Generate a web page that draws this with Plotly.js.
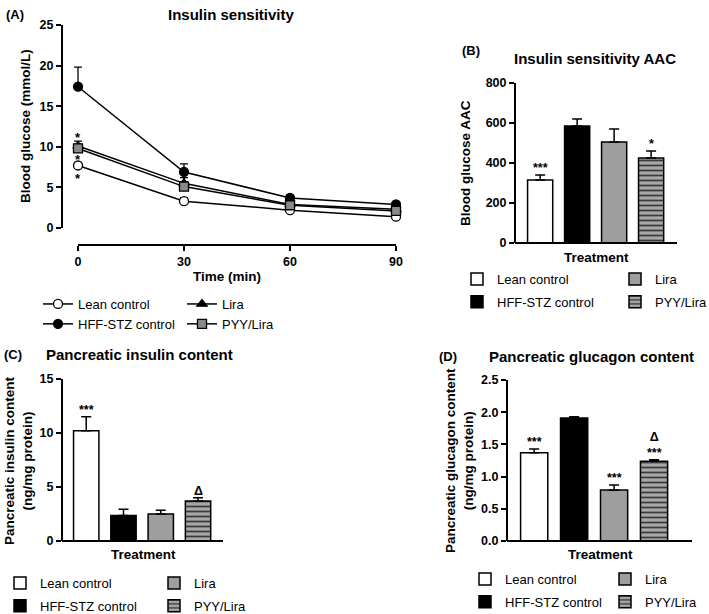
<!DOCTYPE html>
<html><head><meta charset="utf-8">
<script src="https://cdn.plot.ly/plotly-3.0.1.min.js"></script>
<style>html,body{margin:0;padding:0;background:#fff}#chart{width:709px;height:614px}</style>
</head><body><div id="chart"></div>
<script>
// ---------- data ----------
const groups = ['Lean control', 'HFF-STZ control', 'Lira', 'PYY/Lira'];
const timeMin = [0, 30, 60, 90];
const glucoseLean = [7.7, 3.3, 2.2, 1.4];
const glucoseLeanErr = [0.3, 0.4, 0.2, 0.2];
const glucoseHFF = [17.4, 6.9, 3.7, 2.9];
const glucoseHFFErr = [2.4, 1.0, 0.3, 0.3];
const glucoseLira = [10.1, 5.5, 2.9, 2.3];
const glucoseLiraErr = [0.6, 0.7, 0.3, 0.3];
const glucosePYY = [9.8, 5.1, 2.8, 2.1];
const glucosePYYErr = [0.5, 0.6, 0.3, 0.3];

const aacMean = [315, 585, 505, 425];
const aacErr = [25, 35, 65, 35];
const aacSig = ['***', '', '', '*'];

const insulinMean = [10.2, 2.35, 2.5, 3.7];
const insulinErr = [1.3, 0.6, 0.35, 0.3];
const insulinSig = ['***', '', '', 'Δ'];

const glucagonMean = [1.37, 1.91, 0.79, 1.24];
const glucagonErr = [0.06, 0.02, 0.08, 0.02];
const glucagonSig = ['***', '', '***', 'Δ<br>***'];

// ---------- helpers ----------
const W = 709, H = 614;
const px = v => v / W;
const py = v => 1 - v / H;
const FONT = 'Liberation Sans, Arial, Helvetica, sans-serif';
const barColors = ['#ffffff', '#000000', '#9e9e9e', '#9e9e9e'];

const traces = [];
// Panel A lines
const lineSeries = [
  {name: groups[0], y: glucoseLean, e: glucoseLeanErr, sym: 'circle', fill: '#ffffff', legend: 'legend'},
  {name: groups[1], y: glucoseHFF, e: glucoseHFFErr, sym: 'circle', fill: '#000000', legend: 'legend'},
  {name: groups[2], y: glucoseLira, e: glucoseLiraErr, sym: 'triangle-up', fill: '#000000', legend: 'legend2'},
  {name: groups[3], y: glucosePYY, e: glucosePYYErr, sym: 'square', fill: '#8a8a8a', legend: 'legend2'}
];
lineSeries.forEach(s => {
  traces.push({
    type: 'scatter', mode: 'lines+markers', x: timeMin, y: s.y, name: s.name,
    xaxis: 'x', yaxis: 'y', legend: s.legend, cliponaxis: false,
    line: {color: '#000', width: 1.5},
    marker: {symbol: s.sym, size: 9, color: s.fill, line: {color: '#000', width: 1.3}},
    error_y: {type: 'data', symmetric: false, array: s.e, arrayminus: s.e.map(() => 0), color: '#000', thickness: 1.3, width: 4}
  });
});

// bar panels
function addBars(means, errs, xa, ya, legL, legR) {
  groups.forEach((g, i) => {
    const t = {
      type: 'bar', x: [g], y: [means[i]], name: g, xaxis: xa, yaxis: ya,
      legend: i < 2 ? legL : legR, legendgroup: xa + '_' + i, width: 0.68,
      marker: {color: barColors[i], line: {color: '#000', width: 1.5}},
      error_y: {type: 'data', symmetric: false, array: [errs[i]], arrayminus: [0], color: '#000', thickness: 1.5, width: 5}
    };
    if (i === 3) t.marker.pattern = {shape: '-', fgcolor: '#3a3a3a', bgcolor: '#a8a8a8', size: 5, solidity: 0.35};
    traces.push(t);
  });
}
addBars(aacMean, aacErr, 'x2', 'y2', 'legend3', 'legend4');
addBars(insulinMean, insulinErr, 'x3', 'y3', 'legend5', 'legend6');
addBars(glucagonMean, glucagonErr, 'x4', 'y4', 'legend7', 'legend8');

// ---------- annotations ----------
const ann = [];
const bold = (s, extra) => Object.assign({family: FONT, size: s, color: '#000', weight: 'bold'}, extra || {});
function paperText(text, x, y, size, opts) {
  ann.push(Object.assign({text, x: px(x), y: py(y), xref: 'paper', yref: 'paper', showarrow: false,
    font: bold(size), xanchor: 'center', yanchor: 'middle'}, opts || {}));
}
// panel labels & titles
paperText('(A)', 4, 14, 13, {xanchor: 'left'});
paperText('Insulin sensitivity', 231, 14, 15);
paperText('(B)', 460, 50, 13, {xanchor: 'left'});
paperText('Insulin sensitivity AAC', 595, 58, 15);
paperText('(C)', 2, 354, 13, {xanchor: 'left'});
paperText('Pancreatic insulin content', 44, 354, 15, {xanchor: 'left'});
paperText('(D)', 437, 356, 13, {xanchor: 'left'});
paperText('Pancreatic glucagon content', 487, 356, 15, {xanchor: 'left'});
// axis titles
paperText('Blood glucose (mmol/L)', 26, 126, 13.5, {textangle: -90});
paperText('Time (min)', 227, 276, 13.5);
paperText('Blood glucose AAC', 465, 163, 13.5, {textangle: -90});
paperText('Treatment', 596, 257, 13.5);
paperText('Pancreatic insulin content<br>(ng/mg protein)', 18, 461, 13.5, {textangle: -90});
paperText('Treatment', 143, 554, 13.5);
paperText('Pancreatic glucagon content<br>(ng/mg protein)', 459, 461, 13.5, {textangle: -90});
paperText('Treatment', 600, 554, 13.5);

// significance in panel A (at time 0)
ann.push({text: '*', x: timeMin[0], y: glucoseLira[0] + glucoseLiraErr[0], xref: 'x', yref: 'y', showarrow: false, font: bold(13), yanchor: 'bottom', yshift: -6});
ann.push({text: '*', x: timeMin[0], y: (glucosePYY[0] + glucoseLean[0]) / 2, xref: 'x', yref: 'y', showarrow: false, font: bold(13), yanchor: 'middle', yshift: -3});
ann.push({text: '*', x: timeMin[0], y: glucoseLean[0], xref: 'x', yref: 'y', showarrow: false, font: bold(13), yanchor: 'top', yshift: -4});

function sigAnn(sig, means, errs, xa, ya) {
  sig.forEach((s, i) => {
    if (!s) return;
    ann.push({text: s, x: groups[i], y: means[i] + errs[i], xref: xa, yref: ya, showarrow: false,
      font: bold(12.5), yanchor: 'bottom', yshift: -2});
  });
}
sigAnn(aacSig, aacMean, aacErr, 'x2', 'y2');
sigAnn(insulinSig, insulinMean, insulinErr, 'x3', 'y3');
sigAnn(glucagonSig, glucagonMean, glucagonErr, 'x4', 'y4');

// ---------- axes ----------
const tickFont = bold(12.5);
function yax(domTop, domBot, range, dtick, pos, fmt) {
  return {domain: [py(domBot), py(domTop)], range, dtick, tick0: 0, anchor: 'free', position: px(pos),
    showline: true, linecolor: '#000', linewidth: 2, ticks: 'outside', ticklen: 5, tickwidth: 2, tickcolor: '#000',
    showgrid: false, zeroline: false, tickfont: tickFont, tickformat: fmt || '', fixedrange: true};
}
function xcat(left, right, range, pos) {
  return {domain: [px(left), px(right)], range, type: 'category', categoryorder: 'array', categoryarray: groups,
    anchor: 'free', position: py(pos), showline: true, linecolor: '#000', linewidth: 2, ticks: '', showticklabels: false,
    showgrid: false, zeroline: false, fixedrange: true};
}

function legendAt(x, y, gap) {
  return {x: px(x), y: py(y), xref: 'paper', yref: 'paper', xanchor: 'left', yanchor: 'top', orientation: 'v',
    bgcolor: 'rgba(0,0,0,0)', font: {family: FONT, size: 13, color: '#000'}, tracegroupgap: gap || 0};
}

// panel A x axis: line drawn only from first to last time point (detached GraphPad style)
const xAxisAY = py(245);
const shapes = [{type: 'line', xref: 'x', yref: 'paper', x0: timeMin[0], x1: timeMin[timeMin.length - 1],
  y0: xAxisAY, y1: xAxisAY, line: {color: '#000', width: 2}, layer: 'above'}];

const layout = {
  width: W, height: H, margin: {l: 0, r: 0, t: 0, b: 0, autoexpand: false}, paper_bgcolor: '#fff', plot_bgcolor: 'rgba(0,0,0,0)',
  font: {family: FONT, color: '#000'}, showlegend: true, barmode: 'overlay',
  xaxis: {domain: [px(63), px(396)], range: [-4.25, 90], tickvals: timeMin, anchor: 'free', position: xAxisAY,
    showline: false, ticks: 'outside', ticklen: 5, tickwidth: 2, tickcolor: '#000',
    showgrid: false, zeroline: false, tickfont: tickFont, fixedrange: true},
  yaxis: yax(25, 228, [0, 25], 5, 62),
  xaxis2: xcat(515, 677, [-0.68, 3.7], 243),
  yaxis2: yax(83, 243, [0, 800], 200, 515),
  xaxis3: xcat(62, 223, [-0.65, 3.67], 541),
  yaxis3: yax(379, 541, [0, 15], 5, 62),
  xaxis4: xcat(507, 692, [-0.68, 3.95], 541),
  yaxis4: yax(380, 541, [0, 2.5], 0.5, 507, '.1f'),
  legend: legendAt(38, 289),
  legend2: legendAt(182, 289),
  legend3: legendAt(457, 264, 3),
  legend4: legendAt(615, 264, 3),
  legend5: legendAt(0, 568, 3),
  legend6: legendAt(154, 568, 3),
  legend7: legendAt(465, 564, 3),
  legend8: legendAt(605, 564, 3),
  shapes: shapes,
  annotations: ann
};

Plotly.newPlot('chart', traces, layout, {staticPlot: true, displayModeBar: false});
</script>
</body></html>
